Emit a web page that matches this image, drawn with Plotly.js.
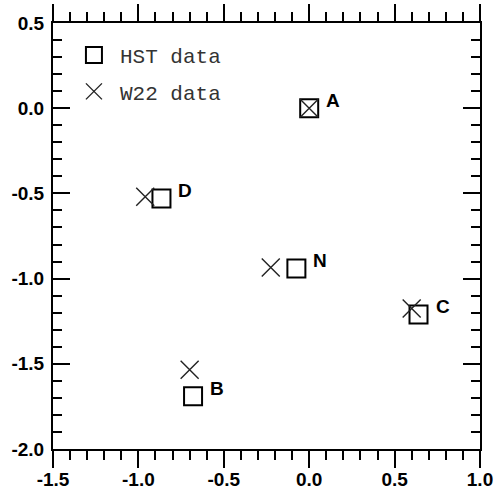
<!DOCTYPE html>
<html>
<head>
<meta charset="utf-8">
<script src="https://cdn.plot.ly/plotly-3.0.1.min.js"></script>
<style>html,body{margin:0;padding:0;background:#fff;}</style>
</head>
<body>
<div id="chart" style="width:495px;height:497px;"></div>
<script>
// Data
var labels = ['A', 'B', 'C', 'D', 'N'];
var hstX = [0.0, -0.68, 0.64, -0.865, -0.075];
var hstY = [0.0, -1.69, -1.21, -0.53, -0.94];
var w22X = [0.0, -0.70, 0.60, -0.96, -0.225];
var w22Y = [0.0, -1.535, -1.175, -0.52, -0.935];

var xTickVals = [-1.5, -1.0, -0.5, 0.0, 0.5, 1.0];
var xTickText = ['-1.5', '-1.0', '-0.5', '0.0', '0.5', '1.0'];
var yTickVals = [-2.0, -1.5, -1.0, -0.5, 0.0, 0.5];
var yTickText = ['-2.0', '-1.5', '-1.0', '-0.5', '0.0', '0.5'];

var tickFont = {family: 'Liberation Sans, Arial, sans-serif', size: 19, color: '#000', weight: 'bold'};

var traces = [
  {
    x: hstX, y: hstY, type: 'scatter', mode: 'markers', name: 'HST data',
    legendgroup: 'g1',
    marker: {symbol: 'square-open', size: 18, color: '#000', line: {width: 2, color: '#000'}}
  },
  {
    x: w22X, y: w22Y, type: 'scatter', mode: 'markers', name: 'W22 data',
    legendgroup: 'g2',
    marker: {symbol: 'x-thin-open', size: 18, color: '#222', line: {width: 1.4, color: '#222'}}
  }
];

var annotations = labels.map(function (t, i) {
  return {
    x: hstX[i], y: hstY[i], xref: 'x', yref: 'y', text: t, showarrow: false,
    xanchor: 'center', yanchor: 'middle', xshift: 24, yshift: 8,
    font: {family: 'Liberation Sans, Arial, sans-serif', size: 19, color: '#000', weight: 'bold'}
  };
});

var axisCommon = {
  showline: true, linewidth: 2, linecolor: '#000', mirror: 'ticks',
  showgrid: false, zeroline: false, tickwidth: 2, tickcolor: '#000', ticklen: 17,
  tickmode: 'array', tickfont: tickFont
};

var layout = {
  width: 495, height: 497,
  margin: {l: 53, r: 15, t: 23, b: 48},
  paper_bgcolor: '#fff', plot_bgcolor: '#fff',
  showlegend: true,
  legend: {
    x: 0.035, y: 0.972, xanchor: 'left', yanchor: 'top',
    font: {family: 'Liberation Mono, DejaVu Sans Mono, monospace', size: 21, color: '#333'},
    bgcolor: 'rgba(0,0,0,0)', traceorder: 'grouped', tracegroupgap: 6, itemwidth: 42
  },
  xaxis: Object.assign({}, axisCommon, {
    range: [-1.5, 1.0], tickvals: xTickVals, ticktext: xTickText, ticks: 'outside',
    ticklabelstandoff: -5,
    minor: {dtick: 0.1, tick0: 0, ticks: 'outside', ticklen: 9, tickwidth: 2, tickcolor: '#000', showgrid: false}
  }),
  yaxis: Object.assign({}, axisCommon, {
    range: [-2.0, 0.5], tickvals: yTickVals, ticktext: yTickText, ticks: 'inside',
    ticklabelstandoff: 3,
    minor: {dtick: 0.1, tick0: 0, ticks: 'inside', ticklen: 9, tickwidth: 2, tickcolor: '#000', showgrid: false}
  }),
  annotations: annotations
};

Plotly.newPlot('chart', traces, layout, {displayModeBar: false, staticPlot: true});
</script>
</body>
</html>
